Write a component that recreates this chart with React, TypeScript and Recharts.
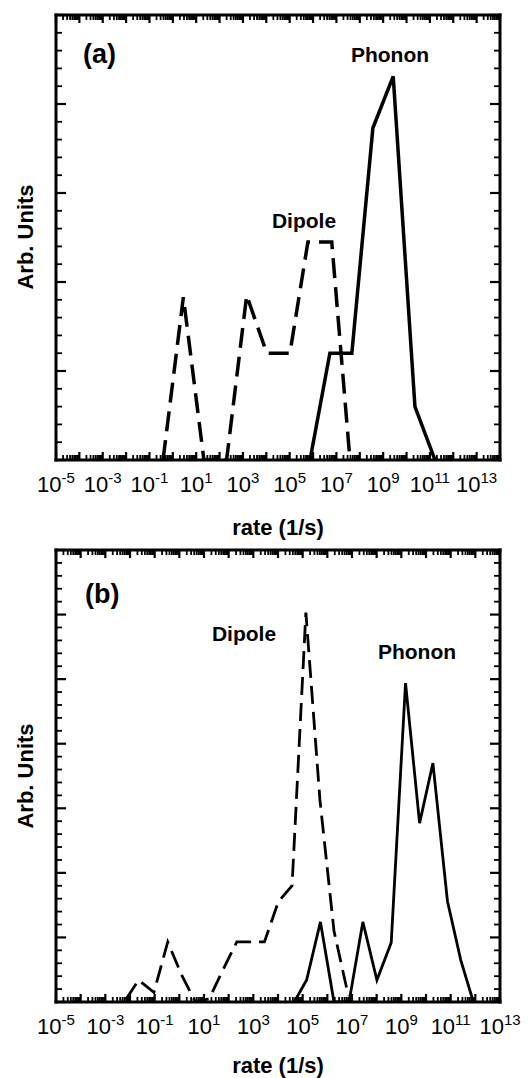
import { Line, LineChart, XAxis, YAxis } from "recharts";

// x values are log10(rate in 1/s), y values are arbitrary units
const phononA_logRate = [5.87, 6.72, 7.66, 8.56, 9.43, 10.36, 11.22];
const phononA_value = [0, 1.2, 1.2, 3.73, 4.31, 0.6, 0];
const dipoleA_logRate = [-0.42, 0.45, 1.33, 2.3, 3.16, 4.02, 5.01, 5.78, 6.8, 7.58];
const dipoleA_value = [0, 1.83, 0, 0, 1.85, 1.2, 1.2, 2.45, 2.45, 0];

const phononB_logRate = [4.66, 5.16, 5.72, 6.27, 6.88, 7.44, 8.01, 8.59, 9.17, 9.74, 10.28, 10.87, 11.41, 11.92];
const phononB_value = [0, 0.34, 1.24, 0, 0, 1.24, 0.34, 0.92, 4.94, 2.77, 3.7, 1.56, 0.65, 0];
const dipoleB_logRate = [-2.15, -1.65, -1.03, -0.47, 0.09, 0.65, 1.21, 1.77, 2.33, 2.89, 3.45, 4.01, 4.57, 5.13, 5.7, 6.27, 6.85];
const dipoleB_value = [0.05, 0.34, 0.15, 0.93, 0.42, 0, 0.05, 0.5, 0.93, 0.93, 0.93, 1.55, 1.8, 6.03, 3.13, 1.1, 0.1];

const labelExponents = [-5, -3, -1, 1, 3, 5, 7, 9, 11, 13];

const FONT = '"Liberation Sans", Arial, Helvetica, sans-serif';

const zip = (xs: number[], ys: number[]) => xs.map((x, i) => ({ x, y: ys[i] }));

function range(a: number, b: number, step = 1): number[] {
	const out: number[] = [];
	for (let v = a; v <= b + 1e-9; v += step) out.push(Math.round(v * 1000) / 1000);
	return out;
}

// decades plus the 2..9 log subdivisions
function logTicks(from: number, to: number): number[] {
	const out: number[] = [];
	for (let n = from; n <= to; n++) {
		out.push(n);
		if (n < to) for (let k = 2; k <= 9; k++) out.push(Math.round((n + Math.log10(k)) * 1000) / 1000);
	}
	return out;
}

const isWhole = (v: number) => Math.abs(v - Math.round(v)) < 1e-6;

// tick marks point into the plot; dir is +1 (down) or -1 (up)
function makeXTick(dir: number, withLabels: boolean) {
	return function XTick(props: any) {
		const { x, y, payload } = props;
		const v = Number(payload.value);
		const major = isWhole(v);
		const len = major ? 8 : 5;
		const showLabel = withLabels && major && labelExponents.includes(Math.round(v));
		return (
			<g>
				<path d={`M${x},${y}V${y + dir * len}`} stroke="#000" strokeWidth={major ? 2.2 : 1.8} fill="none" />
				{showLabel && (
					<text x={x} y={y + 32} textAnchor="middle" fontFamily={FONT} fontSize={22} fill="#000">
						<tspan>10</tspan>
						<tspan dy={-9} fontSize={15}>
							{Math.round(v)}
						</tspan>
					</text>
				)}
			</g>
		);
	};
}

function makeYTick(dir: number) {
	return function YTick(props: any) {
		const { x, y, payload } = props;
		const major = isWhole(Number(payload.value));
		const len = major ? 10 : 6;
		return <path d={`M${x},${y}H${x + dir * len}`} stroke="#000" strokeWidth={major ? 2.2 : 1.8} fill="none" />;
	};
}

const BottomTick = makeXTick(-1, true);
const TopTick = makeXTick(1, false);
const LeftTick = makeYTick(1);
const RightTick = makeYTick(-1);

const frame = { stroke: "#000", strokeWidth: 3, strokeLinecap: "square" as const };

type PanelProps = {
	height: number;
	top: number;
	bottom: number;
	xMax: number;
	yMax: number;
	lineWidth: number;
	dash: string;
	phonon: { x: number; y: number }[];
	dipole: { x: number; y: number }[];
};

function Panel({ height, top, bottom, xMax, yMax, lineWidth, dash, phonon, dipole }: PanelProps) {
	const xDomain = [-5, xMax];
	const yDomain = [0, yMax];
	const xTicks = logTicks(-5, xMax);
	const yTicks = range(0, yMax, 0.2);
	return (
		<LineChart width={530} height={height} margin={{ top, right: 30, bottom, left: 56 }}>
			<XAxis
				xAxisId="x"
				type="number"
				dataKey="x"
				domain={xDomain}
				ticks={xTicks}
				allowDataOverflow
				height={40}
				tickSize={0}
				tickMargin={0}
				tickLine={false}
				axisLine={frame}
				tick={BottomTick}
				interval={0}
			/>
			<XAxis
				xAxisId="xt"
				orientation="top"
				type="number"
				dataKey="x"
				domain={xDomain}
				ticks={xTicks}
				allowDataOverflow
				mirror
				height={1}
				tickSize={0}
				tickMargin={0}
				tickLine={false}
				axisLine={frame}
				tick={TopTick}
				interval={0}
			/>
			<YAxis
				yAxisId="y"
				type="number"
				domain={yDomain}
				ticks={yTicks}
				allowDataOverflow
				mirror
				width={1}
				tickSize={0}
				tickMargin={0}
				tickLine={false}
				axisLine={frame}
				tick={LeftTick}
				interval={0}
			/>
			<YAxis
				yAxisId="yr"
				orientation="right"
				type="number"
				domain={yDomain}
				ticks={yTicks}
				allowDataOverflow
				mirror
				width={1}
				tickSize={0}
				tickMargin={0}
				tickLine={false}
				axisLine={frame}
				tick={RightTick}
				interval={0}
			/>
			<Line
				xAxisId="x"
				yAxisId="y"
				data={dipole}
				dataKey="y"
				type="linear"
				stroke="#000"
				strokeWidth={lineWidth}
				strokeDasharray={dash}
				dot={false}
				isAnimationActive={false}
			/>
			<Line
				xAxisId="xt"
				yAxisId="yr"
				data={phonon}
				dataKey="y"
				type="linear"
				stroke="#000"
				strokeWidth={lineWidth}
				dot={false}
				isAnimationActive={false}
			/>
		</LineChart>
	);
}

const boldText = { fontFamily: FONT, fontWeight: 700, fill: "#000" };

export default function App() {
	return (
		<div style={{ position: "absolute", left: 0, top: 0, width: 530, height: 1078, background: "#fff" }}>
			<div style={{ position: "absolute", left: 0, top: 0 }}>
				<Panel
					height={540}
					top={15}
					bottom={40}
					xMax={14}
					yMax={5}
					lineWidth={3.5}
					dash="20 9"
					phonon={zip(phononA_logRate, phononA_value)}
					dipole={zip(dipoleA_logRate, dipoleA_value)}
				/>
			</div>
			<div style={{ position: "absolute", left: 0, top: 540 }}>
				<Panel
					height={538}
					top={10}
					bottom={36}
					xMax={13}
					yMax={7}
					lineWidth={2.8}
					dash="18 8"
					phonon={zip(phononB_logRate, phononB_value)}
					dipole={zip(dipoleB_logRate, dipoleB_value)}
				/>
			</div>
			<svg width={530} height={1078} style={{ position: "absolute", left: 0, top: 0, pointerEvents: "none" }}>
				<text x={83} y={63} fontSize={27} {...boldText}>(a)</text>
				<text x={390} y={62} fontSize={21} textAnchor="middle" {...boldText}>Phonon</text>
				<text x={304} y={228} fontSize={21} textAnchor="middle" {...boldText}>Dipole</text>
				<text transform="translate(33,237) rotate(-90)" fontSize={22} textAnchor="middle" {...boldText}>Arb. Units</text>
				<text x={278} y={535} fontSize={22} textAnchor="middle" {...boldText}>rate (1/s)</text>

				<text x={85} y={603} fontSize={27} {...boldText}>(b)</text>
				<text x={244} y={641} fontSize={21} textAnchor="middle" {...boldText}>Dipole</text>
				<text x={417} y={659} fontSize={21} textAnchor="middle" {...boldText}>Phonon</text>
				<text transform="translate(33,776) rotate(-90)" fontSize={22} textAnchor="middle" {...boldText}>Arb. Units</text>
				<text x={278} y={1073} fontSize={22} textAnchor="middle" {...boldText}>rate (1/s)</text>
			</svg>
		</div>
	);
}
